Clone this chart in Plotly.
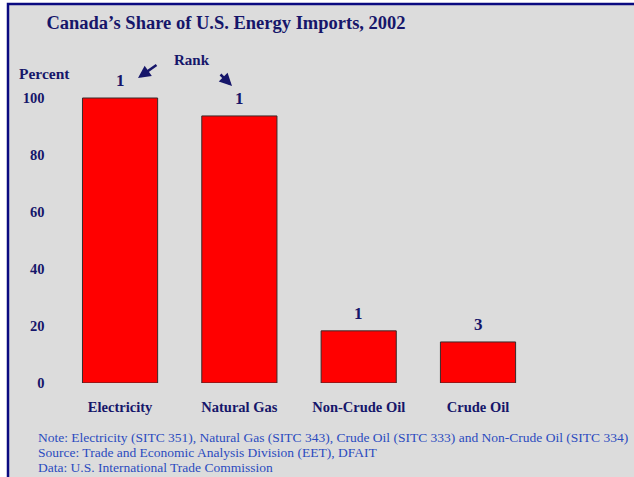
import plotly.graph_objects as go

categories = ["Electricity", "Natural Gas", "Non-Crude Oil", "Crude Oil"]
share_pct = [100.0, 93.7, 18.3, 14.4]
ranks = ["1", "1", "1", "3"]
y_ticks = [0, 20, 40, 60, 80, 100]
note_lines = [
    "Note: Electricity (SITC 351), Natural Gas (SITC 343), Crude Oil (SITC 333) and Non-Crude Oil (SITC 334)",
    "Source: Trade and Economic Analysis Division (EET), DFAIT",
    "Data: U.S. International Trade Commission",
]

W, H = 634, 477
NAVY = "#16166a"
NOTE = "#2b4bbf"
SERIF = "Liberation Serif, Times New Roman, serif"

def px(x):
    return x / W

def py(y):
    return 1 - y / H

fig = go.Figure()
fig.add_trace(go.Bar(
    x=categories, y=share_pct, width=0.63,
    marker=dict(color="#ff0000", line=dict(color="#3a2a2a", width=1)),
    hoverinfo="x+y",
))

# rank labels above bars
for c, v, r in zip(categories, share_pct, ranks):
    fig.add_annotation(x=c, y=v, text="<b>" + r + "</b>", showarrow=False, yshift=17,
                       yanchor="middle", font=dict(family=SERIF, size=17, color=NAVY))

annotations_extra = [
    dict(x=px(17), y=py(73), xref="paper", yref="paper", text="<b>Percent</b>",
         showarrow=False, xanchor="left", yanchor="middle",
         font=dict(family=SERIF, size=15.5, color=NAVY)),
    dict(x=px(192), y=py(60), xref="paper", yref="paper", text="<b>Rank</b>",
         showarrow=False, xanchor="center", yanchor="middle",
         font=dict(family=SERIF, size=15, color=NAVY)),
    dict(x=px(138), y=py(78), xref="paper", yref="paper", text="", showarrow=True,
         ax=20, ay=-14, arrowhead=2, arrowsize=1, arrowwidth=2.5, arrowcolor=NAVY),
    dict(x=px(232), y=py(86), xref="paper", yref="paper", text="", showarrow=True,
         ax=-13, ay=-13, arrowhead=2, arrowsize=1, arrowwidth=2.5, arrowcolor=NAVY),
]
for a in annotations_extra:
    fig.add_annotation(**a)

for i, line in enumerate(note_lines):
    fig.add_annotation(x=px(36), y=py(437 + 15 * i), xref="paper", yref="paper",
                       xanchor="left", yanchor="middle", showarrow=False, text=line,
                       font=dict(family=SERIF, size=13.5, color=NOTE))

fig.add_shape(type="rect", xref="paper", yref="paper", x0=px(8), x1=1.02, y0=-0.02, y1=py(4),
              fillcolor="#dcdcdc", line=dict(color="#0a0a80", width=2.5), layer="below")

y_bottom, y_top = 383, 98
ymax = 105
top_px = y_bottom - ymax * (y_bottom - y_top) / 100

fig.update_layout(
    width=W, height=H, autosize=False,
    margin=dict(l=0, r=0, t=0, b=0, pad=0, autoexpand=False),
    paper_bgcolor="white", plot_bgcolor="rgba(0,0,0,0)",
    showlegend=False,
    title=dict(text="<b>Canada’s Share of U.S. Energy Imports, 2002</b>",
               x=px(226), y=py(23), xanchor="center", yanchor="middle",
               font=dict(family=SERIF, size=18.5, color=NAVY)),
    xaxis=dict(domain=[px(60.4), px(620)], range=[-0.5, 4.19], showgrid=False,
               showline=False, zeroline=False, ticks="outside", ticklen=11,
               tickcolor="rgba(0,0,0,0)", automargin=False,
               tickfont=dict(family=SERIF, size=14.5, color=NAVY, weight="bold")),
    yaxis=dict(domain=[py(y_bottom), py(top_px)], range=[0, ymax], tickvals=y_ticks,
               showgrid=False, showline=False, zeroline=False, ticks="outside", ticklen=12,
               tickcolor="rgba(0,0,0,0)", automargin=False,
               tickfont=dict(family=SERIF, size=14.5, color=NAVY, weight="bold")),
)

fig.write_html("out.html", config={"displayModeBar": False, "responsive": False},
               post_script="document.body.style.margin='0';")
